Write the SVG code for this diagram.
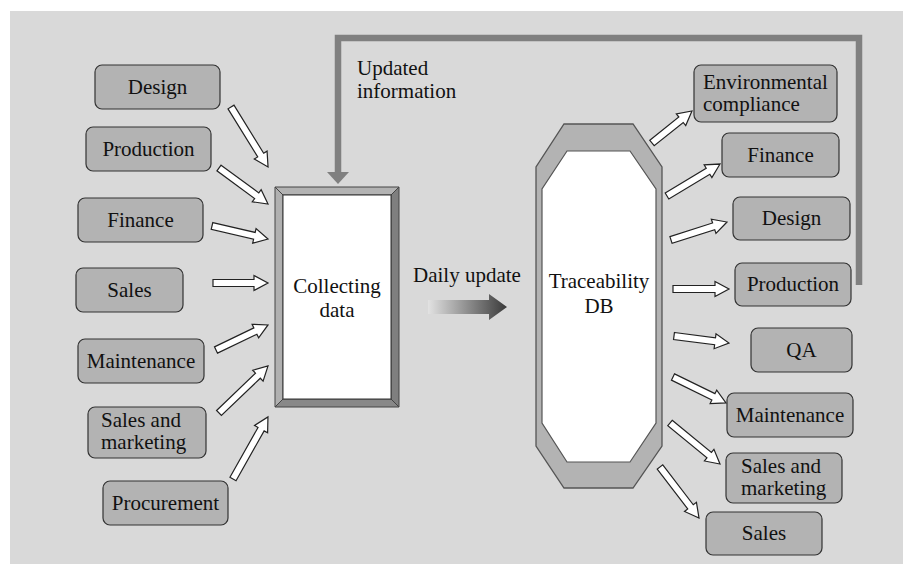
<svg xmlns="http://www.w3.org/2000/svg" width="913" height="577" viewBox="0 0 913 577">
<defs>
<style>
.box{fill:#b3b3b3;stroke:#333;stroke-width:1.2}
.t{font-family:'Liberation Serif','Tinos','Times New Roman','DejaVu Serif',serif;font-size:21px;fill:#111}
.c{text-anchor:middle}
.ha{fill:#fff;stroke:#222;stroke-width:1.2;stroke-linejoin:miter}
.bev{stroke:#444;stroke-width:1;stroke-linejoin:round}
</style>
<linearGradient id="gd" x1="0" y1="0" x2="1" y2="0">
<stop offset="0" stop-color="#e2e2e2"/>
<stop offset="1" stop-color="#3a3a3a"/>
</linearGradient>
</defs>
<rect x="0" y="0" width="913" height="577" fill="#fff"/>
<rect x="10" y="11" width="893" height="553" fill="#d9d9d9"/>

<g id="connectors">
<path id="feedback" d="M859,285 V38 H338 V173" fill="none" stroke="#808080" stroke-width="6.5"/>
<polygon points="327,172 349,172 338,184" fill="#808080"/>
<g id="daily-update">
<path d="M428,300 H489 V294 L507,307 L489,320 V314 H428 Z" fill="url(#gd)"/>
</g>
<g class="ha">
<path transform="translate(231,107) rotate(58.3)" d="M0,-3.5 H56.5 V-7.5 L70.5,0 L56.5,7.5 V3.5 H0 Z"/>
<path transform="translate(219,168) rotate(36.3)" d="M0,-3.5 H46.8 V-7.5 L60.8,0 L46.8,7.5 V3.5 H0 Z"/>
<path transform="translate(212,226) rotate(13.1)" d="M0,-3.5 H43.5 V-7.5 L57.5,0 L43.5,7.5 V3.5 H0 Z"/>
<path transform="translate(213,283) rotate(0)" d="M0,-3.5 H41 V-7.5 L55,0 L41,7.5 V3.5 H0 Z"/>
<path transform="translate(216,350) rotate(-25.7)" d="M0,-3.5 H43.7 V-7.5 L57.7,0 L43.7,7.5 V3.5 H0 Z"/>
<path transform="translate(219,413) rotate(-43.8)" d="M0,-3.5 H53.9 V-7.5 L67.9,0 L53.9,7.5 V3.5 H0 Z"/>
<path transform="translate(233,479) rotate(-60.6)" d="M0,-3.5 H57.2 V-7.5 L71.2,0 L57.2,7.5 V3.5 H0 Z"/>
<path transform="translate(652,143) rotate(-38.7)" d="M0,-3.5 H37.2 V-7.5 L51.2,0 L37.2,7.5 V3.5 H0 Z"/>
<path transform="translate(667,196) rotate(-31.1)" d="M0,-3.5 H47.9 V-7.5 L61.9,0 L47.9,7.5 V3.5 H0 Z"/>
<path transform="translate(671,240) rotate(-17.8)" d="M0,-3.5 H44.8 V-7.5 L58.8,0 L44.8,7.5 V3.5 H0 Z"/>
<path transform="translate(673,289) rotate(0)" d="M0,-3.5 H42 V-7.5 L56,0 L42,7.5 V3.5 H0 Z"/>
<path transform="translate(674,336) rotate(7.3)" d="M0,-3.5 H41.4 V-7.5 L55.4,0 L41.4,7.5 V3.5 H0 Z"/>
<path transform="translate(673,377) rotate(26.1)" d="M0,-3.5 H45 V-7.5 L59,0 L45,7.5 V3.5 H0 Z"/>
<path transform="translate(670,423) rotate(39.4)" d="M0,-3.5 H50.7 V-7.5 L64.7,0 L50.7,7.5 V3.5 H0 Z"/>
<path transform="translate(660,467) rotate(52.6)" d="M0,-3.5 H50.2 V-7.5 L64.2,0 L50.2,7.5 V3.5 H0 Z"/>
</g>
</g>

<text class="t" x="357" y="75">Updated<tspan x="357" y="98">information</tspan></text>
<text class="t" x="413" y="282">Daily update</text>

<g id="collecting-data">
<polygon class="bev" points="275,187 399,187 391,195 283,195" fill="#b3b3b3"/>
<polygon class="bev" points="275,187 283,195 283,399 275,407" fill="#b0b0b0"/>
<polygon class="bev" points="399,187 399,407 391,399 391,195" fill="#7f7f7f"/>
<polygon class="bev" points="275,407 399,407 391,399 283,399" fill="#888"/>
<rect x="283" y="195" width="108" height="204" fill="#fff" stroke="#333" stroke-width="1"/>
<text class="t c" x="337" y="293">Collecting<tspan x="337" y="317">data</tspan></text>
</g>

<g id="traceability-db">
<polygon points="564,124 633,124 662,167 662,446 633,488 564,488 536,446 536,167" fill="#b3b3b3" stroke="#555" stroke-width="1.3"/>
<polygon points="567,151 630,151 656,189 656,423 630,462 567,462 542,423 542,189" fill="#fff" stroke="#555" stroke-width="1.2"/>
<text class="t c" x="599" y="288">Traceability<tspan x="599" y="313">DB</tspan></text>
</g>

<g id="in-design"><rect class="box" x="95" y="65" width="125" height="44" rx="7"/><text class="t c" x="157.5" y="94">Design</text></g>
<g id="in-production"><rect class="box" x="86" y="127" width="125" height="44" rx="7"/><text class="t c" x="148.5" y="156">Production</text></g>
<g id="in-finance"><rect class="box" x="78" y="198" width="125" height="44" rx="7"/><text class="t c" x="140.5" y="227">Finance</text></g>
<g id="in-sales"><rect class="box" x="76" y="268" width="107" height="44" rx="7"/><text class="t c" x="129.5" y="297">Sales</text></g>
<g id="in-maintenance"><rect class="box" x="78" y="339" width="126" height="44" rx="7"/><text class="t c" x="141" y="368">Maintenance</text></g>
<g id="in-sales-marketing"><rect class="box" x="88" y="407" width="118" height="51" rx="7"/><text class="t" x="101" y="427">Sales and<tspan x="101" y="449">marketing</tspan></text></g>
<g id="in-procurement"><rect class="box" x="103" y="481" width="125" height="44" rx="7"/><text class="t c" x="165.5" y="510">Procurement</text></g>

<g id="out-env"><rect class="box" x="694" y="65" width="143" height="57" rx="7"/><text class="t" x="703" y="89">Environmental<tspan x="703" y="111">compliance</tspan></text></g>
<g id="out-finance"><rect class="box" x="722" y="133" width="117" height="44" rx="7"/><text class="t c" x="780.5" y="162">Finance</text></g>
<g id="out-design"><rect class="box" x="733" y="197" width="117" height="43" rx="7"/><text class="t c" x="791.5" y="225">Design</text></g>
<g id="out-production"><rect class="box" x="735" y="263" width="116" height="43" rx="7"/><text class="t c" x="793" y="291">Production</text></g>
<g id="out-qa"><rect class="box" x="751" y="328" width="101" height="44" rx="7"/><text class="t c" x="801.5" y="357">QA</text></g>
<g id="out-maintenance"><rect class="box" x="727" y="393" width="126" height="44" rx="7"/><text class="t c" x="790" y="422">Maintenance</text></g>
<g id="out-sales-marketing"><rect class="box" x="726" y="453" width="116" height="50" rx="7"/><text class="t" x="741" y="473">Sales and<tspan x="741" y="495">marketing</tspan></text></g>
<g id="out-sales"><rect class="box" x="706" y="512" width="116" height="43" rx="7"/><text class="t c" x="764" y="540">Sales</text></g>
</svg>
